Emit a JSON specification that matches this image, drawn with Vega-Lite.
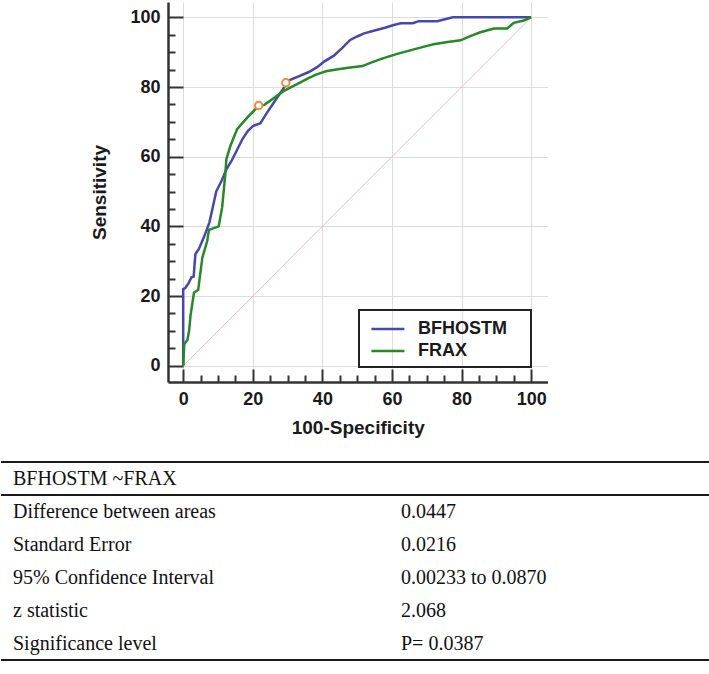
{
  "$schema": "https://vega.github.io/schema/vega-lite/v6.json",
  "background": "white",
  "padding": {"left": 0, "top": 2, "right": 0, "bottom": 0},
  "config": {
    "view": {"stroke": null},
    "font": "Liberation Sans",
    "legend": {"strokeWidth": 2}
  },
  "datasets": {
    "roc": [
      {"test": "BFHOSTM", "i": 0, "fpr": 0, "tpr": 0},
      {"test": "BFHOSTM", "i": 1, "fpr": 0, "tpr": 22},
      {"test": "BFHOSTM", "i": 2, "fpr": 0.6, "tpr": 22.3},
      {"test": "BFHOSTM", "i": 3, "fpr": 1.5, "tpr": 23.6},
      {"test": "BFHOSTM", "i": 4, "fpr": 2.4, "tpr": 25.4},
      {"test": "BFHOSTM", "i": 5, "fpr": 3.0, "tpr": 25.6},
      {"test": "BFHOSTM", "i": 6, "fpr": 3.5, "tpr": 32},
      {"test": "BFHOSTM", "i": 7, "fpr": 4.5, "tpr": 33.5},
      {"test": "BFHOSTM", "i": 8, "fpr": 6, "tpr": 37},
      {"test": "BFHOSTM", "i": 9, "fpr": 7.5, "tpr": 41},
      {"test": "BFHOSTM", "i": 10, "fpr": 8.5, "tpr": 45.5},
      {"test": "BFHOSTM", "i": 11, "fpr": 9.5, "tpr": 50},
      {"test": "BFHOSTM", "i": 12, "fpr": 11, "tpr": 53},
      {"test": "BFHOSTM", "i": 13, "fpr": 12.5, "tpr": 56.5},
      {"test": "BFHOSTM", "i": 14, "fpr": 14, "tpr": 59},
      {"test": "BFHOSTM", "i": 15, "fpr": 15.5, "tpr": 62},
      {"test": "BFHOSTM", "i": 16, "fpr": 17, "tpr": 65},
      {"test": "BFHOSTM", "i": 17, "fpr": 18.5, "tpr": 67.3},
      {"test": "BFHOSTM", "i": 18, "fpr": 20, "tpr": 68.8},
      {"test": "BFHOSTM", "i": 19, "fpr": 22.2, "tpr": 69.6},
      {"test": "BFHOSTM", "i": 20, "fpr": 24, "tpr": 72.5},
      {"test": "BFHOSTM", "i": 21, "fpr": 26.5, "tpr": 76.2},
      {"test": "BFHOSTM", "i": 22, "fpr": 29.1, "tpr": 80},
      {"test": "BFHOSTM", "i": 23, "fpr": 29.9, "tpr": 81.7},
      {"test": "BFHOSTM", "i": 24, "fpr": 33, "tpr": 83},
      {"test": "BFHOSTM", "i": 25, "fpr": 36.1, "tpr": 84.3},
      {"test": "BFHOSTM", "i": 26, "fpr": 38.5, "tpr": 85.7},
      {"test": "BFHOSTM", "i": 27, "fpr": 40.5, "tpr": 87.3},
      {"test": "BFHOSTM", "i": 28, "fpr": 43.3, "tpr": 89},
      {"test": "BFHOSTM", "i": 29, "fpr": 45.5, "tpr": 91},
      {"test": "BFHOSTM", "i": 30, "fpr": 48, "tpr": 93.5},
      {"test": "BFHOSTM", "i": 31, "fpr": 50, "tpr": 94.5},
      {"test": "BFHOSTM", "i": 32, "fpr": 52, "tpr": 95.4},
      {"test": "BFHOSTM", "i": 33, "fpr": 55, "tpr": 96.2},
      {"test": "BFHOSTM", "i": 34, "fpr": 58, "tpr": 97},
      {"test": "BFHOSTM", "i": 35, "fpr": 60.5, "tpr": 97.8},
      {"test": "BFHOSTM", "i": 36, "fpr": 62.5, "tpr": 98.3},
      {"test": "BFHOSTM", "i": 37, "fpr": 66, "tpr": 98.3},
      {"test": "BFHOSTM", "i": 38, "fpr": 67.7, "tpr": 98.9},
      {"test": "BFHOSTM", "i": 39, "fpr": 73, "tpr": 98.9},
      {"test": "BFHOSTM", "i": 40, "fpr": 75.5, "tpr": 99.5},
      {"test": "BFHOSTM", "i": 41, "fpr": 77.5, "tpr": 100},
      {"test": "BFHOSTM", "i": 42, "fpr": 100, "tpr": 100},
      {"test": "FRAX", "i": 0, "fpr": 0, "tpr": 0},
      {"test": "FRAX", "i": 1, "fpr": 0.3, "tpr": 6.2},
      {"test": "FRAX", "i": 2, "fpr": 1.2, "tpr": 7.4},
      {"test": "FRAX", "i": 3, "fpr": 1.7, "tpr": 10},
      {"test": "FRAX", "i": 4, "fpr": 2.1, "tpr": 14.4},
      {"test": "FRAX", "i": 5, "fpr": 3.1, "tpr": 21},
      {"test": "FRAX", "i": 6, "fpr": 4.3, "tpr": 21.7},
      {"test": "FRAX", "i": 7, "fpr": 5.5, "tpr": 31},
      {"test": "FRAX", "i": 8, "fpr": 6.9, "tpr": 35.8},
      {"test": "FRAX", "i": 9, "fpr": 7.4, "tpr": 39},
      {"test": "FRAX", "i": 10, "fpr": 10.2, "tpr": 40},
      {"test": "FRAX", "i": 11, "fpr": 11.2, "tpr": 45.5},
      {"test": "FRAX", "i": 12, "fpr": 12.1, "tpr": 55},
      {"test": "FRAX", "i": 13, "fpr": 12.4, "tpr": 59.3},
      {"test": "FRAX", "i": 14, "fpr": 13.6, "tpr": 63.2},
      {"test": "FRAX", "i": 15, "fpr": 15.5, "tpr": 67.9},
      {"test": "FRAX", "i": 16, "fpr": 18.4, "tpr": 71.2},
      {"test": "FRAX", "i": 17, "fpr": 21.7, "tpr": 74.6},
      {"test": "FRAX", "i": 18, "fpr": 23.2, "tpr": 74.8},
      {"test": "FRAX", "i": 19, "fpr": 26, "tpr": 76.8},
      {"test": "FRAX", "i": 20, "fpr": 28.5, "tpr": 78.6},
      {"test": "FRAX", "i": 21, "fpr": 30.3, "tpr": 79.6},
      {"test": "FRAX", "i": 22, "fpr": 33, "tpr": 81},
      {"test": "FRAX", "i": 23, "fpr": 35.6, "tpr": 82.3},
      {"test": "FRAX", "i": 24, "fpr": 38, "tpr": 83.5},
      {"test": "FRAX", "i": 25, "fpr": 41, "tpr": 84.5},
      {"test": "FRAX", "i": 26, "fpr": 44, "tpr": 85},
      {"test": "FRAX", "i": 27, "fpr": 47.5, "tpr": 85.5},
      {"test": "FRAX", "i": 28, "fpr": 51.5, "tpr": 86},
      {"test": "FRAX", "i": 29, "fpr": 54, "tpr": 87},
      {"test": "FRAX", "i": 30, "fpr": 56.7, "tpr": 88},
      {"test": "FRAX", "i": 31, "fpr": 61.5, "tpr": 89.5},
      {"test": "FRAX", "i": 32, "fpr": 66.3, "tpr": 90.8},
      {"test": "FRAX", "i": 33, "fpr": 72, "tpr": 92.3},
      {"test": "FRAX", "i": 34, "fpr": 76, "tpr": 92.9},
      {"test": "FRAX", "i": 35, "fpr": 79.7, "tpr": 93.4},
      {"test": "FRAX", "i": 36, "fpr": 82.5, "tpr": 94.6},
      {"test": "FRAX", "i": 37, "fpr": 85.4, "tpr": 95.7},
      {"test": "FRAX", "i": 38, "fpr": 89.3, "tpr": 96.8},
      {"test": "FRAX", "i": 39, "fpr": 93.1, "tpr": 96.8},
      {"test": "FRAX", "i": 40, "fpr": 95, "tpr": 98.4},
      {"test": "FRAX", "i": 41, "fpr": 97.9, "tpr": 99.1},
      {"test": "FRAX", "i": 42, "fpr": 100, "tpr": 100}
    ],
    "cutoffs": [
      {"test": "FRAX", "fpr": 21.7, "tpr": 74.7},
      {"test": "BFHOSTM", "fpr": 29.5, "tpr": 81.2}
    ],
    "diagonal": [
      {"x": 0, "y": 0, "x2": 100, "y2": 100}
    ],
    "table": [
      {"row": 0, "col": "metric", "text": "BFHOSTM ~FRAX"},
      {"row": 1, "col": "metric", "text": "Difference between areas"},
      {"row": 1, "col": "value", "text": "0.0447"},
      {"row": 2, "col": "metric", "text": "Standard Error"},
      {"row": 2, "col": "value", "text": "0.0216"},
      {"row": 3, "col": "metric", "text": "95% Confidence Interval"},
      {"row": 3, "col": "value", "text": "0.00233 to 0.0870"},
      {"row": 4, "col": "metric", "text": "z statistic"},
      {"row": 4, "col": "value", "text": "2.068"},
      {"row": 5, "col": "metric", "text": "Significance level"},
      {"row": 5, "col": "value", "text": "P= 0.0387"}
    ],
    "tableRules": [
      {"row": 0, "edge": "top"},
      {"row": 1, "edge": "top"},
      {"row": 5, "edge": "bottom"}
    ]
  },
  "spacing": 24,
  "vconcat": [
    {
      "spacing": 0,
      "hconcat": [
        {
          "width": 89,
          "height": 1,
          "data": {"values": []},
          "mark": "point"
        },
        {
          "width": 379.5,
          "height": 380,
          "resolve": {"axis": {"x": "independent", "y": "independent"}},
          "layer": [
            {
              "data": {"name": "diagonal"},
              "mark": {"type": "rule", "color": "#e7bdbd", "strokeWidth": 1},
              "encoding": {
                "x": {
                  "field": "x",
                  "type": "quantitative",
                  "scale": {"domain": [-4.37, 104.7], "nice": false, "zero": false},
                  "axis": {
                    "orient": "bottom",
                    "title": "100-Specificity",
                    "values": [0, 20, 40, 60, 80, 100],
                    "format": "d",
                    "labelOverlap": false,
                    "labelFlush": false,
                    "grid": true,
                    "gridColor": "#dcdcdc",
                    "gridWidth": 1,
                    "tickSize": -13,
                    "tickColor": "#333333",
                    "tickWidth": 2,
                    "domainColor": "#333333",
                    "domainWidth": 2.5,
                    "labelFont": "Liberation Sans",
                    "labelFontSize": 18,
                    "labelFontWeight": "bold",
                    "labelColor": "#1a1a1a",
                    "labelPadding": 21,
                    "titleFont": "Liberation Sans",
                    "titleFontSize": 19,
                    "titleFontWeight": "bold",
                    "titleColor": "#1a1a1a",
                    "titlePadding": 10
                  }
                },
                "y": {
                  "field": "y",
                  "type": "quantitative",
                  "scale": {"domain": [-4.68, 104.4], "nice": false, "zero": false},
                  "axis": {
                    "orient": "left",
                    "title": "Sensitivity",
                    "values": [0, 20, 40, 60, 80, 100],
                    "format": "d",
                    "labelOverlap": false,
                    "labelFlush": false,
                    "grid": true,
                    "gridColor": "#dcdcdc",
                    "gridWidth": 1,
                    "tickSize": -15,
                    "tickColor": "#333333",
                    "tickWidth": 2,
                    "domainColor": "#333333",
                    "domainWidth": 2.5,
                    "labelFont": "Liberation Sans",
                    "labelFontSize": 18,
                    "labelFontWeight": "bold",
                    "labelColor": "#1a1a1a",
                    "labelPadding": 23,
                    "titleFont": "Liberation Sans",
                    "titleFontSize": 19,
                    "titleFontWeight": "bold",
                    "titleColor": "#1a1a1a",
                    "titlePadding": 20
                  }
                },
                "x2": {"field": "x2"},
                "y2": {"field": "y2"}
              }
            },
            {
              "data": {"name": "roc"},
              "mark": {"type": "line", "strokeWidth": 2.5, "interpolate": "linear"},
              "encoding": {
                "x": {
                  "field": "fpr",
                  "type": "quantitative",
                  "axis": {
                    "orient": "bottom",
                    "title": null,
                    "values": [5, 10, 15, 25, 30, 35, 45, 50, 55, 65, 70, 75, 85, 90, 95],
                    "labels": false,
                    "grid": false,
                    "domain": false,
                    "tickSize": -7,
                    "tickColor": "#333333",
                    "tickWidth": 2
                  }
                },
                "y": {
                  "field": "tpr",
                  "type": "quantitative",
                  "axis": {
                    "orient": "left",
                    "title": null,
                    "values": [5, 10, 15, 25, 30, 35, 45, 50, 55, 65, 70, 75, 85, 90, 95],
                    "labels": false,
                    "grid": false,
                    "domain": false,
                    "tickSize": -7,
                    "tickColor": "#333333",
                    "tickWidth": 2
                  }
                },
                "order": {"field": "i", "type": "quantitative"},
                "color": {
                  "field": "test",
                  "type": "nominal",
                  "scale": {"domain": ["BFHOSTM", "FRAX"], "range": ["#4747b0", "#248a24"]},
                  "legend": {
                    "title": "\u00a0",
                    "titleOrient": "right",
                    "titlePadding": 18,
                    "titleFontSize": 1,
                    "orient": "none",
                    "legendX": 358,
                    "legendY": 308,
                    "strokeColor": "#222222",
                    "padding": 6.5,
                    "symbolType": "M-0.6,0H2.4",
                    "symbolSize": 484,
                    "symbolStrokeWidth": 2.5,
                    "labelFont": "Liberation Sans",
                    "labelFontSize": 18,
                    "labelFontWeight": "bold",
                    "labelColor": "#1a1a1a",
                    "labelOffset": 27.5,
                    "rowPadding": 0
                  }
                }
              }
            },
            {
              "data": {"name": "cutoffs"},
              "mark": {"type": "point", "shape": "circle", "filled": false, "fill": "white", "fillOpacity": 1, "stroke": "#f28a3c", "strokeWidth": 2, "size": 55, "opacity": 1},
              "encoding": {
                "x": {"field": "fpr", "type": "quantitative", "axis": null},
                "y": {"field": "tpr", "type": "quantitative", "axis": null}
              }
            }
          ]
        }
      ]
    },
    {
      "width": 709,
      "height": 198,
      "layer": [
        {
          "data": {"name": "tableRules"},
          "transform": [{"filter": "datum.edge === 'top'"}],
          "mark": {"type": "rule", "color": "#1a1a1a", "strokeWidth": 2},
          "encoding": {
            "y": {
              "field": "row",
              "type": "ordinal",
              "bandPosition": 0,
              "scale": {"type": "band", "domain": [0, 1, 2, 3, 4, 5], "paddingInner": 0, "paddingOuter": 0},
              "axis": null
            }
          }
        },
        {
          "data": {"name": "tableRules"},
          "transform": [{"filter": "datum.edge === 'bottom'"}],
          "mark": {"type": "rule", "color": "#1a1a1a", "strokeWidth": 2},
          "encoding": {
            "y": {"field": "row", "type": "ordinal", "bandPosition": 1, "axis": null}
          }
        },
        {
          "data": {"name": "table"},
          "mark": {"type": "text", "align": "left", "baseline": "middle", "font": "Liberation Serif", "fontSize": 20, "color": "#111111"},
          "encoding": {
            "y": {"field": "row", "type": "ordinal", "bandPosition": 0.5, "axis": null},
            "x": {
              "field": "col",
              "type": "nominal",
              "scale": {"type": "point", "domain": ["metric", "value"], "range": [12, 400], "padding": 0},
              "axis": null
            },
            "text": {"field": "text"}
          }
        }
      ]
    }
  ]
}
